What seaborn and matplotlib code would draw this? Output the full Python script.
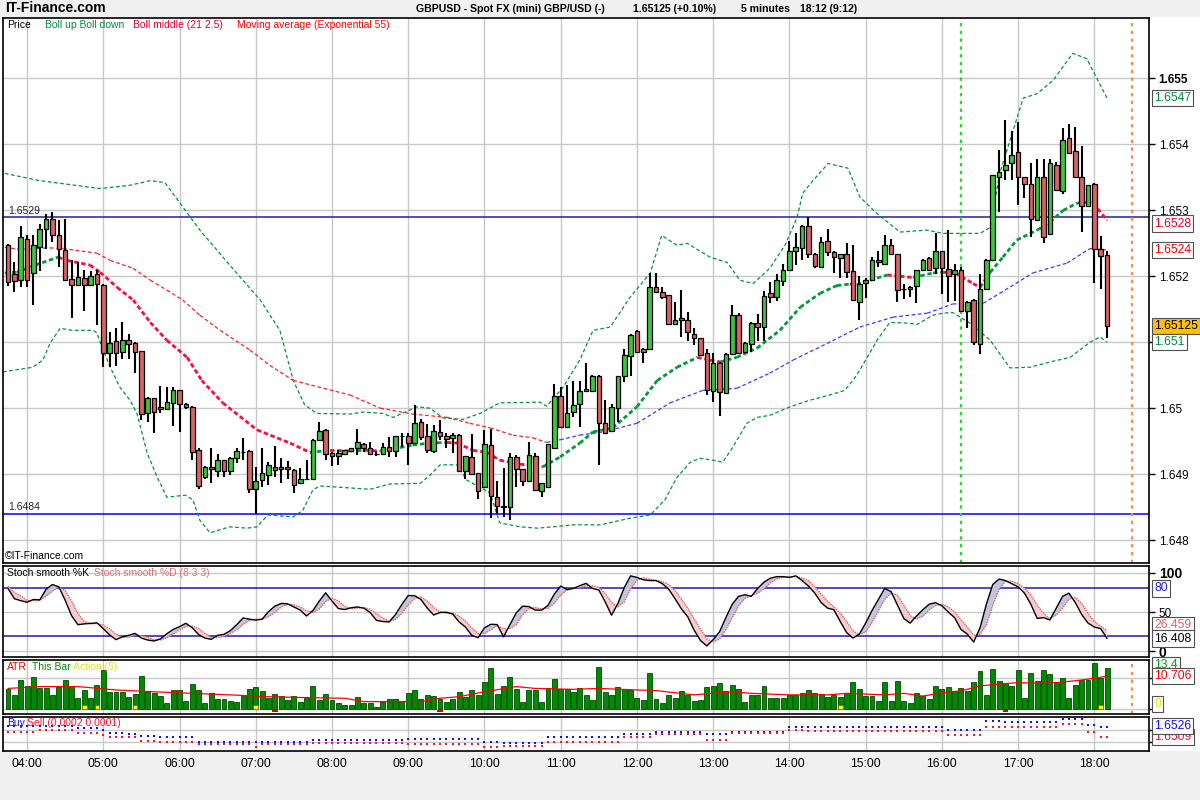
import numpy as np
import pandas as pd
import matplotlib
matplotlib.use("Agg")
import matplotlib.pyplot as plt
import matplotlib.transforms as mtransforms
from matplotlib.patches import Rectangle
from matplotlib import font_manager
import seaborn as sns

sns.set_theme(style="white")
plt.rcParams['font.family'] = ['Liberation Sans', 'DejaVu Sans']

# ---------------------------------------------------------------- data
# 5-minute candles, first bar 03:45, last bar 18:10 (index 0..173)
hour_labels = ["04:00", "05:00", "06:00", "07:00", "08:00", "09:00", "10:00", "11:00",
               "12:00", "13:00", "14:00", "15:00", "16:00", "17:00", "18:00"]
hour_idx = [3, 15, 27, 39, 51, 63, 75, 87, 99, 111, 123, 135, 147, 159, 171]

opens = [1.65247, 1.65203, 1.65194, 1.65257, 1.65205, 1.65244, 1.65271, 1.65287, 1.65262, 1.65240,
         1.65196, 1.65187, 1.65198, 1.65187, 1.65203, 1.65187, 1.65084, 1.65102, 1.65085, 1.65103,
         1.65099, 1.65086, 1.64992, 1.65015, 1.65001, 1.64998, 1.65008, 1.65027, 1.65007, 1.65002,
         1.64936, 1.64895, 1.64910, 1.64905, 1.64921, 1.64904, 1.64924, 1.64934, 1.64935, 1.64878,
         1.64891, 1.64898, 1.64910, 1.64908, 1.64910, 1.64906, 1.64886, 1.64892, 1.64893, 1.64952,
         1.64967, 1.64932, 1.64928, 1.64930, 1.64935, 1.64939, 1.64946, 1.64940, 1.64930, 1.64931,
         1.64941, 1.64935, 1.64957, 1.64958, 1.64947, 1.64979, 1.64957, 1.64935, 1.64964, 1.64957,
         1.64954, 1.64960, 1.64904, 1.64926, 1.64901, 1.64881, 1.64944, 1.64866, 1.64851, 1.64850,
         1.64926, 1.64907, 1.64889, 1.64927, 1.64874, 1.64881, 1.64939, 1.65018, 1.64971, 1.64994,
         1.65006, 1.65026, 1.65026, 1.65049, 1.64977, 1.64966, 1.65000, 1.65049, 1.65079, 1.65117,
         1.65085, 1.65089, 1.65184, 1.65176, 1.65171, 1.65128, 1.65137, 1.65133, 1.65112, 1.65106,
         1.65083, 1.65026, 1.65069, 1.65023, 1.65082, 1.65141, 1.65085, 1.65098, 1.65129, 1.65123,
         1.65174, 1.65169, 1.65193, 1.65210, 1.65238, 1.65243, 1.65276, 1.65234, 1.65214, 1.65253,
         1.65237, 1.65228, 1.65233, 1.65208, 1.65161, 1.65190, 1.65194, 1.65224, 1.65219, 1.65248,
         1.65233, 1.65180, 1.65181, 1.65185, 1.65209, 1.65228, 1.65212, 1.65238, 1.65211, 1.65204,
         1.65209, 1.65148, 1.65164, 1.65097, 1.65181, 1.65224, 1.65351, 1.65361, 1.65371, 1.65389,
         1.65350, 1.65340, 1.65286, 1.65350, 1.65264, 1.65369, 1.65330, 1.65409, 1.65390, 1.65350,
         1.65307, 1.65340, 1.65242, 1.65232]
highs = [1.65249, 1.65222, 1.65276, 1.65262, 1.65262, 1.65279, 1.65294, 1.65297, 1.65285, 1.65287,
         1.65225, 1.65222, 1.65209, 1.65208, 1.65209, 1.65188, 1.65116, 1.65121, 1.65130, 1.65113,
         1.65100, 1.65087, 1.65017, 1.65016, 1.65033, 1.65032, 1.65032, 1.65028, 1.65008, 1.65003,
         1.64939, 1.64912, 1.64939, 1.64930, 1.64922, 1.64926, 1.64939, 1.64954, 1.64936, 1.64910,
         1.64939, 1.64919, 1.64942, 1.64925, 1.64920, 1.64907, 1.64909, 1.64921, 1.64953, 1.64979,
         1.64968, 1.64933, 1.64936, 1.64937, 1.64940, 1.64968, 1.64947, 1.64949, 1.64935, 1.64947,
         1.64956, 1.64958, 1.64962, 1.64963, 1.65005, 1.64983, 1.64976, 1.64974, 1.64982, 1.64962,
         1.64962, 1.64961, 1.64928, 1.64961, 1.64902, 1.64967, 1.64968, 1.64890, 1.64909, 1.64932,
         1.64929, 1.64908, 1.64949, 1.64932, 1.64887, 1.64946, 1.65036, 1.65032, 1.65035, 1.65041,
         1.65041, 1.65068, 1.65050, 1.65050, 1.65012, 1.65006, 1.65049, 1.65089, 1.65112, 1.65118,
         1.65091, 1.65205, 1.65205, 1.65184, 1.65172, 1.65161, 1.65179, 1.65146, 1.65121, 1.65107,
         1.65090, 1.65084, 1.65070, 1.65083, 1.65156, 1.65144, 1.65100, 1.65130, 1.65143, 1.65178,
         1.65192, 1.65203, 1.65219, 1.65254, 1.65266, 1.65278, 1.65290, 1.65235, 1.65259, 1.65271,
         1.65238, 1.65234, 1.65250, 1.65248, 1.65200, 1.65197, 1.65229, 1.65239, 1.65262, 1.65256,
         1.65234, 1.65189, 1.65185, 1.65210, 1.65226, 1.65229, 1.65266, 1.65239, 1.65270, 1.65218,
         1.65214, 1.65162, 1.65165, 1.65204, 1.65226, 1.65354, 1.65391, 1.65437, 1.65420, 1.65434,
         1.65351, 1.65372, 1.65378, 1.65378, 1.65378, 1.65373, 1.65425, 1.65431, 1.65426, 1.65398,
         1.65339, 1.65341, 1.65261, 1.65239]
lows = [1.65185, 1.65176, 1.65183, 1.65183, 1.65156, 1.65208, 1.65242, 1.65252, 1.65214, 1.65195,
        1.65137, 1.65186, 1.65147, 1.65186, 1.65126, 1.65062, 1.65063, 1.65064, 1.65075, 1.65075,
        1.65053, 1.64982, 1.64979, 1.64963, 1.64992, 1.64997, 1.64973, 1.64964, 1.64998, 1.64922,
        1.64878, 1.64892, 1.64886, 1.64896, 1.64896, 1.64898, 1.64917, 1.64921, 1.64872, 1.64839,
        1.64881, 1.64883, 1.64896, 1.64887, 1.64893, 1.64872, 1.64885, 1.64891, 1.64892, 1.64951,
        1.64922, 1.64912, 1.64914, 1.64929, 1.64934, 1.64929, 1.64934, 1.64929, 1.64928, 1.64929,
        1.64926, 1.64926, 1.64941, 1.64914, 1.64946, 1.64952, 1.64932, 1.64932, 1.64952, 1.64939,
        1.64932, 1.64904, 1.64892, 1.64898, 1.64862, 1.64880, 1.64833, 1.64840, 1.64835, 1.64830,
        1.64881, 1.64882, 1.64888, 1.64875, 1.64866, 1.64880, 1.64938, 1.64970, 1.64970, 1.64986,
        1.64972, 1.65024, 1.65025, 1.64914, 1.64961, 1.64965, 1.64979, 1.65040, 1.65049, 1.65084,
        1.65068, 1.65088, 1.65175, 1.65165, 1.65126, 1.65127, 1.65108, 1.65102, 1.65095, 1.65080,
        1.65020, 1.65010, 1.64988, 1.65021, 1.65081, 1.65083, 1.65084, 1.65085, 1.65102, 1.65102,
        1.65159, 1.65163, 1.65185, 1.65208, 1.65217, 1.65224, 1.65228, 1.65213, 1.65212, 1.65230,
        1.65205, 1.65198, 1.65198, 1.65163, 1.65134, 1.65167, 1.65193, 1.65214, 1.65218, 1.65233,
        1.65161, 1.65166, 1.65168, 1.65159, 1.65208, 1.65209, 1.65203, 1.65173, 1.65161, 1.65162,
        1.65147, 1.65121, 1.65095, 1.65082, 1.65180, 1.65223, 1.65297, 1.65346, 1.65346, 1.65308,
        1.65318, 1.65260, 1.65285, 1.65251, 1.65263, 1.65330, 1.65324, 1.65386, 1.65349, 1.65267,
        1.65306, 1.65190, 1.65180, 1.65106]
closes = [1.65191, 1.65193, 1.65259, 1.65194, 1.65247, 1.65272, 1.65287, 1.65263, 1.65242, 1.65195,
          1.65187, 1.65199, 1.65186, 1.65201, 1.65189, 1.65083, 1.65099, 1.65084, 1.65103, 1.65097,
          1.65085, 1.64991, 1.65016, 1.64994, 1.64998, 1.65009, 1.65028, 1.65006, 1.65001, 1.64934,
          1.64882, 1.64910, 1.64907, 1.64921, 1.64904, 1.64924, 1.64935, 1.64933, 1.64877, 1.64889,
          1.64901, 1.64914, 1.64906, 1.64910, 1.64907, 1.64884, 1.64892, 1.64893, 1.64952, 1.64965,
          1.64930, 1.64927, 1.64932, 1.64936, 1.64939, 1.64949, 1.64939, 1.64930, 1.64931, 1.64941,
          1.64935, 1.64957, 1.64958, 1.64947, 1.64977, 1.64956, 1.64937, 1.64966, 1.64958, 1.64953,
          1.64960, 1.64905, 1.64928, 1.64900, 1.64874, 1.64945, 1.64867, 1.64852, 1.64850, 1.64926,
          1.64907, 1.64889, 1.64929, 1.64876, 1.64886, 1.64945, 1.65018, 1.64971, 1.64993, 1.65005,
          1.65026, 1.65029, 1.65048, 1.64977, 1.64963, 1.65001, 1.65048, 1.65080, 1.65111, 1.65085,
          1.65090, 1.65183, 1.65176, 1.65169, 1.65127, 1.65134, 1.65133, 1.65115, 1.65106, 1.65081,
          1.65027, 1.65068, 1.65025, 1.65082, 1.65141, 1.65084, 1.65099, 1.65129, 1.65123, 1.65170,
          1.65168, 1.65195, 1.65210, 1.65239, 1.65245, 1.65276, 1.65233, 1.65216, 1.65252, 1.65237,
          1.65229, 1.65233, 1.65206, 1.65164, 1.65189, 1.65194, 1.65224, 1.65221, 1.65247, 1.65234,
          1.65179, 1.65181, 1.65184, 1.65209, 1.65225, 1.65210, 1.65238, 1.65213, 1.65201, 1.65210,
          1.65148, 1.65161, 1.65100, 1.65181, 1.65225, 1.65353, 1.65358, 1.65369, 1.65384, 1.65351,
          1.65340, 1.65287, 1.65350, 1.65259, 1.65371, 1.65331, 1.65407, 1.65387, 1.65350, 1.65306,
          1.65338, 1.65242, 1.65230, 1.65125]

# Bollinger bands (21, 2.5) and EMA 55, read at points along the curves (bar index, price)
upper_idx = [-0.5, 5.0, 14.5, 19.2, 22.4, 24.7, 27.9, 30.2, 34.9, 39.7, 42.8, 44.9, 46.7, 48.6,
             53.8, 55.9, 59.0, 60.6, 64.4, 66.4, 68.5, 71.6, 74.3, 77.4, 83.7, 84.8, 87.4, 90.0,
             92.1, 94.8, 97.9, 101.1, 102.9, 105.3, 106.9, 110.5, 113.2, 115.2, 117.3, 119.9,
             122.3, 124.2, 125.1, 126.7, 129.1, 132.2, 134.1, 136.8, 140.4, 144.7, 147.2, 149.9,
             153.0, 154.6, 156.1, 159.8, 162.0, 164.5, 167.6, 169.8, 173.0]
upper_px = [1.65356, 1.65345, 1.65333, 1.65338, 1.65345, 1.65342, 1.65300, 1.65270, 1.65217,
            1.65164, 1.65118, 1.65042, 1.65005, 1.64992, 1.64991, 1.64994, 1.64992, 1.64986,
            1.65002, 1.65000, 1.64985, 1.64983, 1.64992, 1.65008, 1.65009, 1.65003, 1.65032,
            1.65073, 1.65118, 1.65123, 1.65168, 1.65205, 1.65262, 1.65247, 1.65250, 1.65229,
            1.65221, 1.65194, 1.65189, 1.65212, 1.65247, 1.65289, 1.65326, 1.65345, 1.65371,
            1.65364, 1.65320, 1.65295, 1.65267, 1.65270, 1.65265, 1.65265, 1.65265, 1.65274,
            1.65356, 1.65470, 1.65477, 1.65497, 1.65538, 1.65530, 1.65470]
lower_idx = [-0.8, 3.9, 5.5, 6.6, 8.2, 10.2, 13.4, 14.0, 14.8, 16.1, 17.6, 19.2, 20.3, 21.9,
             23.5, 25.0, 27.9, 29.1, 30.2, 31.8, 34.9, 37.6, 39.2, 40.9, 44.9, 46.4, 48.0,
             49.1, 53.8, 57.0, 60.1, 64.9, 66.4, 68.0, 70.7, 72.2, 74.3, 75.9, 77.4, 80.6,
             83.3, 85.8, 88.9, 93.2, 97.9, 101.1, 103.4, 105.3, 107.4, 108.9, 111.0, 112.5,
             114.1, 116.3, 117.9, 119.9, 123.1, 126.2, 129.4, 131.7, 133.0, 134.1, 136.8,
             138.8, 141.5, 143.1, 145.6, 147.2, 148.7, 151.4, 154.6, 157.7, 160.9, 164.0,
             167.2, 170.3, 171.9, 173.0]
lower_px = [1.65055, 1.65062, 1.65073, 1.65098, 1.65121, 1.65118, 1.65118, 1.65114, 1.65092,
            1.65062, 1.65032, 1.65012, 1.64992, 1.64932, 1.64895, 1.64865, 1.64868, 1.64861,
            1.64830, 1.64811, 1.64820, 1.64818, 1.64820, 1.64838, 1.64835, 1.64845, 1.64876,
            1.64882, 1.64879, 1.64877, 1.64885, 1.64886, 1.64898, 1.64914, 1.64914, 1.64891,
            1.64880, 1.64871, 1.64826, 1.64820, 1.64818, 1.64820, 1.64823, 1.64823, 1.64833,
            1.64838, 1.64861, 1.64895, 1.64918, 1.64924, 1.64921, 1.64918, 1.64941, 1.64977,
            1.64986, 1.64989, 1.65002, 1.65012, 1.65020, 1.65027, 1.65042, 1.65058, 1.65103,
            1.65130, 1.65129, 1.65127, 1.65141, 1.65144, 1.65145, 1.65129, 1.65103, 1.65061,
            1.65062, 1.65070, 1.65077, 1.65100, 1.65108, 1.65100]
middle_idx = [-0.5, 1.4, 4.3, 7.9, 9.3, 12.9, 14.5, 17.2, 19.7, 22.4, 25.0, 28.2, 30.5, 33.8,
              39.2, 44.4, 47.5, 50.7, 53.8, 56.2, 58.6, 60.6, 63.7, 66.4, 69.1, 70.7, 73.2,
              75.4, 77.4, 80.6, 84.2, 86.9, 90.0, 92.1, 95.2, 99.0, 102.2, 105.3, 108.5,
              110.5, 112.1, 114.7, 117.9, 121.5, 124.7, 127.8, 130.5, 132.5, 133.6, 135.7,
              138.4, 140.4, 142.5, 145.6, 147.2, 149.1, 151.9, 153.0, 154.6, 156.6, 158.8,
              162.0, 164.0, 166.1, 168.3, 169.8, 170.8, 173.0]
middle_px = [1.65205, 1.65206, 1.65217, 1.65229, 1.65224, 1.65217, 1.65206, 1.65183, 1.65164,
             1.65130, 1.65103, 1.65077, 1.65042, 1.65008, 1.64967, 1.64947, 1.64933, 1.64936,
             1.64935, 1.64936, 1.64935, 1.64938, 1.64944, 1.64947, 1.64948, 1.64947, 1.64936,
             1.64933, 1.64921, 1.64915, 1.64911, 1.64926, 1.64947, 1.64964, 1.64970, 1.65002,
             1.65042, 1.65062, 1.65077, 1.65073, 1.65070, 1.65077, 1.65091, 1.65118, 1.65153,
             1.65174, 1.65186, 1.65188, 1.65187, 1.65194, 1.65202, 1.65200, 1.65198, 1.65205,
             1.65206, 1.65205, 1.65189, 1.65183, 1.65206, 1.65229, 1.65255, 1.65270, 1.65282,
             1.65300, 1.65311, 1.65312, 1.65311, 1.65285]
ema_idx = [-0.5, 1.6, 6.6, 8.7, 14.0, 16.1, 19.7, 22.4, 25.0, 27.5, 30.2, 33.4, 38.1, 41.2,
           44.9, 53.8, 58.6, 63.7, 69.1, 72.7, 75.9, 79.5, 82.6, 84.8, 86.9, 90.0, 93.7, 99.0,
           104.2, 109.4, 114.7, 119.9, 123.6, 128.9, 134.1, 139.3, 144.7, 148.7, 153.5, 156.1,
           161.3, 166.7, 170.3, 173.0]
ema_px = [1.65244, 1.65241, 1.65243, 1.65242, 1.65235, 1.65224, 1.65212, 1.65194, 1.65179,
          1.65164, 1.65141, 1.65118, 1.65088, 1.65065, 1.65042, 1.65020, 1.65000, 1.64991,
          1.64986, 1.64977, 1.64970, 1.64959, 1.64955, 1.64948, 1.64952, 1.64959, 1.64964,
          1.64977, 1.65008, 1.65027, 1.65030, 1.65053, 1.65073, 1.65098, 1.65123, 1.65138,
          1.65144, 1.65158, 1.65159, 1.65174, 1.65205, 1.65220, 1.65242, 1.65240]

# Stochastic smooth (8 3 3)
stoch_k = [80, 67, 64.5, 62.5, 66, 65.5, 79, 85, 82, 65,
           45.5, 34, 35, 35.6, 36.3, 29, 21, 15, 18.5, 20.5,
           22.9, 17, 14.5, 13.3, 16, 22.5, 28, 31.5, 35.8, 30,
           21.5, 17, 15.4, 20.5, 21.7, 26.5, 34, 42.5, 41, 39.8,
           41, 50.5, 57.5, 61, 60.5, 56.5, 52.5, 45, 52, 64,
           74.5, 64, 54.5, 53.2, 55.5, 56.5, 55, 49.5, 39.5, 38,
           37.5, 47, 59.8, 71, 70.8, 66, 55, 46.3, 49.5, 49.8,
           47.5, 37.5, 31, 20.5, 17.5, 30, 34.5, 34.2, 18.5, 34,
           49, 57.5, 57, 52.5, 52.5, 58.5, 73, 83, 78.5, 80,
           83.5, 86.5, 80, 78, 63, 46, 61, 81, 96, 94,
           91, 90, 90, 86, 79, 67, 54, 44, 27, 14,
           7, 15, 25, 43, 60, 70, 72, 70, 80, 88,
           93, 95, 95, 94, 96, 90, 83, 74, 62, 55,
           53, 38, 24, 17, 22, 36, 52, 66, 80, 76,
           59, 42, 36, 45, 53, 60, 62, 58, 50, 43,
           28, 22, 12, 30, 60, 85, 92, 90, 86, 82,
           74, 60, 42, 43, 40, 55, 70, 74, 62, 47,
           36, 31, 29, 16.408]
stoch_d = [83, 75, 70.5, 64.7, 64.3, 64.7, 70.2, 76.5, 82, 77.3,
           64.2, 48.2, 38.2, 34.9, 35.6, 33.6, 28.8, 21.7, 18.2, 18,
           20.6, 20.1, 18.1, 14.9, 14.6, 17.3, 22.2, 27.3, 31.8, 32.4,
           29.1, 22.8, 18, 17.6, 19.2, 22.9, 27.4, 34.3, 39.2, 41.1,
           40.6, 43.8, 49.7, 56.3, 59.7, 59.3, 56.5, 51.3, 49.8, 53.7,
           63.5, 67.5, 64.3, 57.2, 54.4, 55.1, 55.7, 53.7, 48, 42.3,
           38.3, 40.8, 48.1, 59.3, 67.2, 69.3, 63.9, 55.8, 50.3, 48.5,
           48.9, 44.9, 38.7, 29.7, 23, 22.7, 27.3, 32.9, 29.1, 28.9,
           33.8, 46.8, 54.5, 55.7, 54, 54.5, 61.3, 71.5, 78.2, 80.5,
           80.7, 83.3, 83.3, 81.5, 73.7, 62.3, 56.7, 62.7, 79.3, 90.3,
           93.7, 91.7, 90.3, 88.7, 85, 77.3, 66.7, 55, 41.7, 28.3,
           16, 12, 15.7, 27.7, 42.7, 57.7, 67.3, 70.7, 74, 79.3,
           87, 92, 94.3, 94.7, 95, 93.3, 89.7, 82.3, 73, 63.7,
           56.7, 48.7, 38.3, 26.3, 21, 25, 36.7, 51.3, 66, 74,
           71.7, 59, 45.7, 41, 44.7, 52.7, 58.3, 60, 56.7, 50.3,
           40.3, 31, 20.7, 21.3, 34, 58.3, 79, 89, 89.3, 86,
           80.7, 72, 58.7, 48.3, 41.7, 46, 55, 66.3, 68.7, 61,
           48.3, 38, 32, 26.459]

# ATR panel: "This Bar" range bars, ATR line (read points), Action markers
this_bar = [6.5, 4.6, 9.4, 7.5, 10.3, 6.8, 6.8, 4.6, 7.1, 9.4,
            7.5, 3.6, 6.2, 3.6, 7.8, 12.7, 5.5, 5.5, 5.5, 4.0,
            4.9, 10.7, 5.5, 5.3, 4.2, 1.8, 6.2, 6.2, 2.7, 8.1,
            6.2, 1.8, 5.3, 3.3, 3.3, 2.5, 2.3, 4.2, 6.6, 7.2,
            5.8, 3.6, 4.9, 4.2, 2.9, 4.2, 2.3, 3.6, 7.5, 2.9,
            4.9, 2.9, 1.8, 1.2, 1.2, 4.0, 1.8, 1.8, 0.8, 2.3,
            3.3, 3.3, 2.5, 5.3, 6.2, 3.3, 4.6, 4.2, 3.3, 2.3,
            3.3, 5.5, 4.0, 6.2, 4.6, 8.8, 13.4, 4.9, 7.5, 10.3,
            6.6, 2.3, 6.2, 6.2, 2.3, 6.8, 9.9, 6.5, 6.5, 5.5,
            6.8, 4.4, 2.9, 13.8, 5.5, 4.6, 7.2, 6.6, 6.2, 3.6,
            2.9, 11.6, 3.3, 1.8, 4.6, 3.6, 5.8, 4.6, 2.5, 2.9,
            7.2, 7.5, 8.4, 6.0, 7.8, 6.5, 2.3, 4.6, 4.6, 7.5,
            3.6, 3.6, 3.6, 4.6, 4.6, 5.3, 6.2, 5.1, 4.9, 3.9,
            4.6, 3.9, 5.1, 8.8, 6.5, 4.2, 4.2, 2.5, 8.8, 2.5,
            9.0, 2.5, 1.8, 5.1, 4.2, 3.3, 7.5, 6.5, 7.2, 5.8,
            6.8, 5.8, 8.8, 12.4, 4.6, 13.0, 9.0, 8.5, 7.5, 12.7,
            3.6, 11.6, 9.0, 12.7, 11.3, 8.4, 10.1, 3.6, 7.8, 9.4,
            9.4, 14.9, 10.1, 13.4]
atr_idx = [0, 5, 11, 17, 23, 29, 35, 41, 47, 53, 56, 65, 68, 71, 75, 80, 83, 89, 93, 99,
           102, 108, 111, 114, 117, 123, 129, 132, 138, 141, 144, 147, 150, 153, 156, 159,
           162, 165, 168, 171, 173]
atr_val = [6.7, 7.3, 7.3, 6.2, 5.6, 5.1, 4.6, 4.0, 3.7, 3.5, 2.4, 2.4, 3.5, 4.0, 5.6, 7.3,
           6.7, 6.4, 6.7, 6.2, 6.0, 4.6, 5.1, 5.6, 5.1, 4.6, 4.6, 5.1, 4.6, 5.1, 4.2, 5.3,
           5.9, 7.5, 8.1, 8.6, 8.4, 8.6, 9.2, 10.0, 10.706]
action_yellow_idx = [12, 14, 20, 39, 131, 172]
action_red_idx = [42, 68, 157]

# Buy / Sell (0.0002 0.0001)
buy_vals = [1.65272, 1.65272, 1.65272, 1.65272, 1.65272, 1.65272, 1.65272, 1.65272, 1.65272, 1.65272,
            1.65272, 1.65232, 1.65232, 1.65232, 1.65232, 1.65204, 1.65159, 1.65159, 1.65159, 1.65136,
            1.65136, 1.65108, 1.65108, 1.65108, 1.65085, 1.65085, 1.65085, 1.65085, 1.65085, 1.65085,
            1.65006, 1.65006, 1.65006, 1.65006, 1.65006, 1.65006, 1.65006, 1.65006, 1.65006, 1.65006,
            1.65006, 1.65006, 1.65006, 1.65006, 1.65006, 1.65006, 1.65006, 1.65006, 1.65034, 1.65034,
            1.65034, 1.65034, 1.65034, 1.65034, 1.65034, 1.65034, 1.65034, 1.65034, 1.65034, 1.65034,
            1.65034, 1.65034, 1.65034, 1.65050, 1.65050, 1.65050, 1.65050, 1.65050, 1.65050, 1.65050,
            1.65050, 1.65050, 1.65050, 1.65050, 1.65050, 1.65006, 1.65006, 1.65006, 1.64977, 1.64977,
            1.64977, 1.64977, 1.64977, 1.64977, 1.64977, 1.65085, 1.65085, 1.65085, 1.65085, 1.65085,
            1.65085, 1.65085, 1.65085, 1.65085, 1.65085, 1.65085, 1.65085, 1.65136, 1.65136, 1.65136,
            1.65136, 1.65136, 1.65176, 1.65176, 1.65176, 1.65176, 1.65176, 1.65176, 1.65176, 1.65176,
            1.65130, 1.65130, 1.65130, 1.65130, 1.65176, 1.65176, 1.65176, 1.65176, 1.65176, 1.65176,
            1.65176, 1.65176, 1.65176, 1.65260, 1.65260, 1.65260, 1.65249, 1.65249, 1.65249, 1.65249,
            1.65249, 1.65249, 1.65249, 1.65249, 1.65249, 1.65249, 1.65249, 1.65249, 1.65249, 1.65249,
            1.65249, 1.65249, 1.65249, 1.65249, 1.65249, 1.65249, 1.65249, 1.65249, 1.65204, 1.65204,
            1.65204, 1.65204, 1.65204, 1.65204, 1.65363, 1.65363, 1.65363, 1.65346, 1.65346, 1.65346,
            1.65346, 1.65346, 1.65346, 1.65346, 1.65346, 1.65346, 1.65390, 1.65390, 1.65390, 1.65390,
            1.65289, 1.65289, 1.65260, 1.65260]
sell_vals = [1.65176, 1.65176, 1.65176, 1.65176, 1.65176, 1.65204, 1.65204, 1.65204, 1.65204, 1.65204,
             1.65204, 1.65147, 1.65147, 1.65147, 1.65147, 1.65119, 1.65080, 1.65080, 1.65080, 1.65080,
             1.65080, 1.65023, 1.65023, 1.65023, 1.65006, 1.65006, 1.65006, 1.65006, 1.65006, 1.65006,
             1.64966, 1.64966, 1.64966, 1.64966, 1.64966, 1.64966, 1.64966, 1.64966, 1.64966, 1.64909,
             1.64966, 1.64966, 1.64966, 1.64966, 1.64966, 1.64966, 1.64966, 1.64966, 1.64977, 1.64977,
             1.64977, 1.64977, 1.64977, 1.64977, 1.64977, 1.64977, 1.64977, 1.64977, 1.64977, 1.64977,
             1.64977, 1.64977, 1.64977, 1.64966, 1.64966, 1.64966, 1.64966, 1.64966, 1.64966, 1.64966,
             1.64966, 1.64966, 1.64966, 1.64966, 1.64966, 1.64909, 1.64909, 1.64909, 1.64932, 1.64932,
             1.64932, 1.64932, 1.64932, 1.64932, 1.64932, 1.65006, 1.65006, 1.65006, 1.65006, 1.65006,
             1.65006, 1.65006, 1.65006, 1.65006, 1.65006, 1.65006, 1.65006, 1.65091, 1.65091, 1.65091,
             1.65091, 1.65091, 1.65130, 1.65130, 1.65130, 1.65130, 1.65130, 1.65130, 1.65130, 1.65130,
             1.65034, 1.65034, 1.65034, 1.65034, 1.65147, 1.65147, 1.65147, 1.65147, 1.65147, 1.65147,
             1.65147, 1.65147, 1.65147, 1.65204, 1.65204, 1.65204, 1.65187, 1.65187, 1.65187, 1.65187,
             1.65187, 1.65187, 1.65187, 1.65187, 1.65187, 1.65187, 1.65187, 1.65187, 1.65187, 1.65187,
             1.65187, 1.65187, 1.65187, 1.65187, 1.65187, 1.65187, 1.65187, 1.65187, 1.65119, 1.65119,
             1.65119, 1.65119, 1.65119, 1.65119, 1.65249, 1.65249, 1.65249, 1.65260, 1.65260, 1.65260,
             1.65260, 1.65260, 1.65260, 1.65260, 1.65260, 1.65260, 1.65306, 1.65306, 1.65306, 1.65306,
             1.65176, 1.65176, 1.65091, 1.65091]

price_ticks = [1.648, 1.649, 1.650, 1.651, 1.652, 1.653, 1.654, 1.655]
price_tick_labels = ["1.648", "1.649", "1.65", "", "1.652", "1.653", "1.654", "1.655"]
hline_top, hline_bottom = 1.6529, 1.6484
vline_green_idx, vline_orange_idx = 150, 177

# ---------------------------------------------------------------- layout
W, H = 1200, 800
fig = plt.figure(figsize=(12, 8), dpi=100, facecolor='#f0f0f0')
LEFT, RIGHT = 3.3, 1149.0

avail = {f.name for f in font_manager.fontManager.ttflist}
HEAD_FAMILY = ['Liberation Sans Narrow', 'Liberation Sans'] if 'Liberation Sans Narrow' in avail \
    else ['Liberation Sans']
HEAD_SIZE = 9.2 if 'Liberation Sans Narrow' in avail else 7.6


def add_panel(top, bottom):
    ax = fig.add_axes([LEFT / W, 1 - bottom / H, (RIGHT - LEFT) / W, (bottom - top) / H])
    ax.set_facecolor('white')
    for s in ax.spines.values():
        s.set_color('black')
        s.set_linewidth(1.2)
    return ax


def ftext(x, y, s, **kw):
    fig.text(x / W, 1 - y / H, s, va='center', ha='left', **kw)


# white backdrop for the chart block incl. right axis area
fig.patches.append(Rectangle((0, 1 - 751 / H), 1, (751 - 17) / H, transform=fig.transFigure,
                             facecolor='white', edgecolor='none', zorder=-10))

XMIN, XMAX = (LEFT - 8) / 6.353, (RIGHT - 8) / 6.353
idx = np.arange(len(closes))
GRID = '#c8c8c8'

ax_p = add_panel(17.5, 563.3)
ax_s = add_panel(566, 657.3)
ax_a = add_panel(660, 714)
ax_b = add_panel(716.7, 750.7)

for ax in (ax_p, ax_s, ax_a, ax_b):
    ax.set_xlim(XMIN, XMAX)
    ax.set_xticks(hour_idx)
    ax.grid(False)
    for h in hour_idx:
        ax.axvline(h, color=GRID, lw=1, zorder=0)
    ax.yaxis.tick_right()
    ax.tick_params(axis='y', which='both', direction='out', length=4, width=1,
                   colors='black', labelsize=8.5, pad=3, right=True, left=False)
    ax.tick_params(axis='x', length=0, labelbottom=False)

# ---------------------------------------------------------------- price panel
ax_p.set_ylim(1.647647, 1.655924)
for pt in price_ticks:
    ax_p.axhline(pt, color=GRID, lw=1, zorder=0)
ax_p.set_yticks(price_ticks)
ax_p.set_yticklabels(price_tick_labels)
for lab in ax_p.get_yticklabels():
    if lab.get_text() == "1.655":
        lab.set_fontweight('bold')

ax_p.axhline(hline_top, color='#2020a0', lw=1.1, zorder=1)
ax_p.axhline(hline_bottom, color='#0000ff', lw=1.1, zorder=1)
ax_p.axvline(vline_green_idx, color='#22dd22', lw=1.6, ls=(0, (1.5, 2)), zorder=1)
ax_p.axvline(vline_orange_idx, color='#ff8a50', lw=1.6, ls=(0, (1.5, 2)), zorder=1)

band_df = pd.DataFrame({'i': upper_idx, 'p': upper_px})
sns.lineplot(data=band_df, x='i', y='p', ax=ax_p, color='#00963c', lw=0.9,
             sort=False, estimator=None, zorder=2)
ax_p.lines[-1].set_linestyle((0, (3, 2)))
band_df2 = pd.DataFrame({'i': lower_idx, 'p': lower_px})
sns.lineplot(data=band_df2, x='i', y='p', ax=ax_p, color='#00963c', lw=0.9,
             sort=False, estimator=None, zorder=2)
ax_p.lines[-1].set_linestyle((0, (3, 2)))


def slope_colored(ax, xs, ys, up, down, lw, ls, z):
    for j in range(len(xs) - 1):
        c = up if ys[j + 1] >= ys[j] else down
        ax.plot([xs[j], xs[j + 1]], [ys[j], ys[j + 1]], color=c, lw=lw, ls=ls, zorder=z,
                solid_capstyle='butt', dash_capstyle='butt')


slope_colored(ax_p, ema_idx, ema_px, '#3a3aff', '#ff2020', 0.9, (0, (3, 2)), 2)
slope_colored(ax_p, middle_idx, middle_px, '#009a3a', '#ff0a3c', 2.0, (0, (1.6, 1.0)), 3)

# candles
BW = 0.72
for i in idx:
    o, h_, l_, c = opens[i], highs[i], lows[i], closes[i]
    ax_p.plot([i, i], [l_, h_], color='black', lw=1.5, zorder=4, solid_capstyle='butt')
    lo, hi = min(o, c), max(o, c)
    face = '#3ec43e' if c >= o else '#d86464'
    ax_p.add_patch(Rectangle((i - BW / 2, lo), BW, max(hi - lo, 0.000006), facecolor=face,
                             edgecolor='black', lw=0.9, zorder=5))

blend_p = mtransforms.blended_transform_factory(ax_p.transAxes, ax_p.transData)
ax_p.text(0.004, hline_top + 0.00002, "1.6529", transform=blend_p,
          fontsize=7.5, va='bottom', ha='left', zorder=6)
ax_p.text(0.004, hline_bottom + 0.00002, "1.6484", transform=blend_p,
          fontsize=7.5, va='bottom', ha='left', zorder=6)


def rbox(ax, val, txt, color, fc='white', zorder=10):
    tr = mtransforms.blended_transform_factory(ax.transAxes, ax.transData)
    ax.text(1.0045, val, txt, transform=tr, color=color, fontsize=8.8, va='center', ha='left',
            zorder=zorder, clip_on=False,
            bbox=dict(boxstyle='square,pad=0.18', fc=fc, ec='#505050', lw=0.8))


rbox(ax_p, 1.6547, "1.6547", '#008c3c')
rbox(ax_p, 1.6528, "1.6528", '#e8002c')
rbox(ax_p, 1.6524, "1.6524", '#ff0000')
rbox(ax_p, 1.65125, "1.65125", 'black', fc='#ffc000')
rbox(ax_p, 1.6510, "1.651", '#008c3c')

# ---------------------------------------------------------------- stochastic
k = np.array(stoch_k, dtype=float)
d = np.array(stoch_d, dtype=float)
ax_s.set_ylim(-7.4, 108.5)
for gv in (0, 50, 100):
    ax_s.axhline(gv, color=GRID, lw=1, zorder=0)
ax_s.axhline(80, color='#1a1ab4', lw=1.1, zorder=1)
ax_s.axhline(20, color='#1a1ab4', lw=1.1, zorder=1)
ax_s.fill_between(idx, k, d, where=k >= d, interpolate=True, color='#c4c4dc', lw=0, zorder=2)
ax_s.fill_between(idx, k, d, where=k < d, interpolate=True, color='#f6cccc', lw=0, zorder=2)
stoch_df = pd.DataFrame({'i': idx, 'k': k, 'd': d})
sns.lineplot(data=stoch_df, x='i', y='d', ax=ax_s, color='#e05a5a', lw=0.9, sort=False,
             estimator=None, zorder=3)
ax_s.lines[-1].set_linestyle((0, (1.2, 0.8)))
sns.lineplot(data=stoch_df, x='i', y='k', ax=ax_s, color='black', lw=1.0, sort=False,
             estimator=None, zorder=4)
ax_s.set_yticks([0, 50, 100])
ax_s.set_yticklabels(["0", "50", "100"])
for lab in ax_s.get_yticklabels():
    if lab.get_text() in ("0", "100"):
        lab.set_fontweight('bold')
        lab.set_fontsize(10)
rbox(ax_s, 80, "80", '#2020d0')
rbox(ax_s, 33.5, "26.459", '#e06060', zorder=9)
rbox(ax_s, 16.408, "16.408", 'black', zorder=11)

# ---------------------------------------------------------------- ATR
ax_a.set_ylim(-1.63, 15.96)
ax_a.axhline(10, color=GRID, lw=1, zorder=0)
ax_a.axhline(0, color=GRID, lw=1, zorder=0)
ax_a.bar(idx, this_bar, width=0.78, color='#008a00', edgecolor='#004a00', lw=0.6, zorder=2)
for yi in action_yellow_idx:
    ax_a.add_patch(Rectangle((yi - 0.36, 0.05), 0.72, 1.25, facecolor='#ffff00',
                             edgecolor='#707000', lw=0.6, zorder=3))
for ri in action_red_idx:
    ax_a.add_patch(Rectangle((ri - 0.45, -1.05), 0.9, 0.6, facecolor='#e00000',
                             edgecolor='none', zorder=3, clip_on=False))
atr_df = pd.DataFrame({'i': atr_idx, 'v': atr_val})
sns.lineplot(data=atr_df, x='i', y='v', ax=ax_a, color='#ff0000', lw=0.9, sort=False,
             estimator=None, zorder=4)
ax_a.axvline(vline_orange_idx, color='#ff8a50', lw=1.6, ls=(0, (1.5, 2)), zorder=1)
ax_a.set_yticks([0, 10])
ax_a.set_yticklabels(["", ""])
rbox(ax_a, 14.2, "13.4", '#00a000', zorder=9)
rbox(ax_a, 10.706, "10.706", '#ff0000', zorder=11)
rbox(ax_a, 1.6, "0", '#e8e800', zorder=11)

# ---------------------------------------------------------------- Buy / Sell
ax_b.set_ylim(1.64852, 1.6543)
ax_b.axhline(1.652, color=GRID, lw=1, zorder=0)
ax_b.axhline(1.650, color=GRID, lw=1, zorder=0)
bs_df = pd.DataFrame({'i': idx, 'buy': buy_vals, 'sell': sell_vals})
sns.scatterplot(data=bs_df, x='i', y='buy', ax=ax_b, color='#1010ff', marker='s', s=4.2,
                linewidth=0, zorder=3)
sns.scatterplot(data=bs_df, x='i', y='sell', ax=ax_b, color='#ff1030', marker='s', s=4.2,
                linewidth=0, zorder=3)
ax_b.set_yticks([1.650, 1.652])
ax_b.set_yticklabels(["", ""])
rbox(ax_b, 1.6508, "1.6509", '#ff1030', zorder=9)
rbox(ax_b, 1.6527, "1.6526", '#1010ff', zorder=11)
ax_b.set_xticks(hour_idx)
ax_b.set_xticklabels(hour_labels)
ax_b.tick_params(axis='x', length=0, labelbottom=True, labelsize=8.8, pad=5, colors='black')

for ax in (ax_p, ax_s, ax_a, ax_b):
    ax.set_xlabel("")
    ax.set_ylabel("")
    leg = ax.get_legend()
    if leg is not None:
        leg.remove()

# ---------------------------------------------------------------- texts
ftext(5, 8.5, "IT-Finance.com", fontsize=10, fontweight='bold', color='black')
ftext(416, 9.3, "GBPUSD - Spot FX (mini) GBP/USD (-)", fontsize=HEAD_SIZE, fontweight='bold',
      family=HEAD_FAMILY, color='black')
ftext(633, 9.3, "1.65125 (+0.10%)", fontsize=HEAD_SIZE, fontweight='bold',
      family=HEAD_FAMILY, color='black')
ftext(741, 9.3, "5 minutes", fontsize=HEAD_SIZE, fontweight='bold',
      family=HEAD_FAMILY, color='black')
ftext(800, 9.3, "18:12 (9:12)", fontsize=HEAD_SIZE, fontweight='bold',
      family=HEAD_FAMILY, color='black')

ftext(7, 24.5, "Price", fontsize=7.5, color='black')
ftext(45, 24.5, "Boll up Boll down", fontsize=7.5, color='#008c3c')
ftext(133, 24.5, "Boll middle (21 2.5)", fontsize=7.5, color='#e0002c')
ftext(237, 24.5, "Moving average (Exponential 55)", fontsize=7.5, color='#ff0000')
ftext(5, 556, "\u00a9IT-Finance.com", fontsize=7.5, color='black')

ftext(7, 572.7, "Stoch smooth %K", fontsize=7.5, color='black')
ftext(94, 572.7, "Stoch smooth %D (8 3 3)", fontsize=7.5, color='#e07070')
ftext(7, 666.7, "ATR", fontsize=7.5, color='#ff0000')
ftext(32, 666.7, "This Bar", fontsize=7.5, color='#008c00')
ftext(73, 666.7, "Action (5)", fontsize=7.5, color='#e8e800')
ftext(7, 723.3, "Buy", fontsize=7.5, color='#1010ff')
ftext(27, 723.3, "Sell (0.0002 0.0001)", fontsize=7.5, color='#ff1030')

fig.savefig("out.png", dpi=100, facecolor=fig.get_facecolor())
